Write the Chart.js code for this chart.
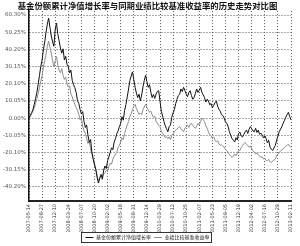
<!DOCTYPE html>
<html>
<head>
<meta charset="utf-8">
<script src="https://cdn.jsdelivr.net/npm/chart.js@4.4.1/dist/chart.umd.min.js"></script>
<style>
    html, body { margin: 0; padding: 0; background: #fff; }
    #wrap { width: 300px; height: 246px; }
</style>
</head>
<body>
<div id="wrap"><canvas id="trend_chart"></canvas></div>
<script>
// Tick labels on the date axis (one every 10 points)
var tickDates = [
    "2007-05-14", "2007-08-27", "2007-12-10", "2008-03-24", "2008-07-07",
    "2008-10-20", "2009-02-02", "2009-05-18", "2009-08-31", "2009-12-14",
    "2010-03-29", "2010-07-12", "2010-10-25", "2011-02-07", "2011-05-23",
    "2011-09-05", "2011-12-19", "2012-04-02", "2012-07-16", "2012-10-29",
    "2013-02-11"
];

// Value axis ticks (%)
var yTicks = [-40.20, -30.15, -20.10, -10.05, 0, 10.05, 20.10, 30.15, 40.20, 50.25, 60.30];

// Series names
var seriesNames = ["基金份额累计净值增长率", "业绩比较基准收益率"];

// Fund cumulative NAV growth (%)
var fundGrowth = [
    0.0, 1.5, 3.2, 5.0, 8.0, 11.5, 15.0, 19.8, 25.0, 30.2,
    34.0, 40.0, 44.5, 50.1, 55.0, 58.4, 53.0, 48.0, 44.6, 42.0,
    51.8, 55.6, 49.0, 45.2, 41.0, 38.0, 40.5, 34.0, 36.2, 31.5,
    30.0, 26.4, 28.0, 22.0, 19.5, 17.8, 15.0, 10.2, 8.6, 5.0,
    2.4, 3.8, -2.0, -5.5, -4.0, -10.0, -14.2, -12.5, -20.0, -24.0,
    -27.5, -30.0, -34.8, -38.0, -35.2, -33.0, -35.8, -30.4, -28.0, -29.5,
    -25.0, -22.6, -20.0, -17.4, -18.5, -14.0, -12.0, -9.2, -7.5, -5.0,
    -3.0, 0.8, -1.2, 4.5, 8.0, 12.4, 17.0, 22.0, 24.6, 27.0,
    22.5, 18.0, 14.6, 12.0, 14.0, 10.0, 13.5, 18.2, 22.0, 25.0,
    21.4, 18.0, 19.5, 15.2, 12.0, 13.8, 11.5, 14.0, 15.6, 16.0,
    10.0, 4.0, 1.2, -2.0, -4.5, -6.2, -8.0, -5.0, -4.0, 0.5,
    3.0, 5.0, 8.5, 11.0, 13.2, 14.0, 17.0, 15.5, 18.0, 16.2,
    14.0, 12.5, 15.0, 16.0, 13.2, 11.0, 12.0, 14.5, 17.0, 15.0,
    16.4, 18.0, 15.0, 13.6, 12.0, 9.4, 11.0, 10.0, 7.8, 8.5,
    6.0, 7.4, 9.0, 10.0, 7.0, 5.2, 4.0, 2.0, 1.5, 0.0,
    -2.4, -3.0, -5.0, -8.0, -10.2, -12.0, -13.0, -14.0, -11.5, -12.8,
    -9.0, -8.2, -10.5, -11.0, -9.6, -8.0, -7.0, -9.0, -6.5, -5.0,
    -6.2, -7.5, -8.0, -6.0, -8.4, -7.0, -9.5, -8.8, -10.0, -11.6,
    -10.4, -12.0, -14.5, -13.0, -17.0, -18.2, -19.0, -17.5, -16.0, -13.0,
    -10.5, -8.0, -6.4, -5.0, -3.0, -1.5, 0.5, 2.0, 3.4, 1.0,
    -1.0
];

// Benchmark return (%)
var benchmarkReturn = [
    0.0, 1.0, 2.5, 4.0, 6.0, 8.4, 11.0, 14.5, 18.0, 21.5,
    25.0, 30.0, 33.6, 37.5, 42.0, 45.0, 41.2, 38.0, 33.5, 30.0,
    33.8, 36.0, 31.0, 28.0, 26.5, 29.0, 25.0, 22.6, 24.0, 20.0,
    18.2, 19.0, 14.0, 12.5, 10.0, 8.0, 6.2, 4.5, 2.0, -1.0,
    0.4, -5.0, -7.4, -9.0, -12.0, -14.8, -13.5, -18.0, -21.0, -23.5,
    -26.0, -30.2, -33.0, -37.0, -35.0, -33.0, -34.5, -32.8, -32.0, -30.5,
    -31.2, -28.0, -26.4, -27.0, -24.0, -22.5, -21.0, -20.0, -17.2, -16.0,
    -14.0, -11.5, -12.6, -9.0, -6.5, -4.0, -2.0, 1.0, 2.6, 5.0,
    6.8, 8.0, 5.5, 4.0, 2.2, 3.0, 2.0, 5.0, 6.5, 8.0,
    6.0, 5.0, 3.4, 4.0, 2.0, 0.5, 1.2, -2.0, -3.0, -4.2,
    -5.0, -7.5, -9.0, -10.0, -11.4, -10.8, -12.0, -11.0, -12.5, -10.0,
    -9.2, -8.0, -7.0, -6.4, -5.5, -5.0, -6.2, -7.0, -8.0, -6.0,
    -5.2, -4.0, -5.5, -3.6, -3.0, -4.4, -5.0, -6.0, -4.8, -3.0,
    -4.0, -2.0, 0.0, -1.0, -2.0, -4.5, -6.0, -8.0, -9.6, -10.4,
    -12.0, -11.0, -13.0, -14.0, -13.2, -15.0, -16.0, -15.4, -16.5, -17.0,
    -18.4, -19.0, -20.0, -21.5, -22.0, -23.0, -22.2, -21.0, -22.0, -20.5,
    -19.0, -19.0, -17.2, -16.0, -15.0, -14.2, -15.5, -16.0, -17.0, -16.4,
    -18.0, -19.2, -20.0, -21.0, -20.4, -21.5, -22.0, -23.0, -22.6, -24.0,
    -23.4, -24.8, -25.0, -24.2, -25.6, -26.0, -25.0, -24.6, -24.0, -22.0,
    -21.0, -20.0, -19.4, -18.5, -18.0, -17.0, -16.4, -16.0, -15.2, -16.6,
    -17.0
];

function to_points(values) {
    return values.map(function (v, i) { return { x: i, y: v }; });
}

// Draws a thin frame round the legend items
var legendFrame = {
    id: "legendFrame",
    afterDraw: function (chart) {
        var legend = chart.legend;
        if (!legend || !legend.legendHitBoxes || !legend.legendHitBoxes.length) return;
        var boxes = legend.legendHitBoxes;
        var left = Infinity, right = -Infinity;
        boxes.forEach(function (b) {
            left = Math.min(left, b.left);
            right = Math.max(right, b.left + b.width);
        });
        var rowTop = legend.top + legend.options.labels.padding;
        var ctx = chart.ctx;
        ctx.save();
        ctx.setLineDash([]);
        ctx.strokeStyle = "#333";
        ctx.lineWidth = 1;
        ctx.strokeRect(Math.round(left) - 3.5, Math.round(rowTop) - 2.5, Math.round(right - left) + 6, 10);
        ctx.restore();
    }
};

function init_trend_chart() {
    var ctx = document.getElementById("trend_chart").getContext("2d");

    var data = {
        datasets: [{
            label: seriesNames[0],
            data: to_points(fundGrowth),
            borderColor: "#111",
            backgroundColor: "#111",
            borderWidth: 1,
            pointRadius: 0,
            tension: 0
        }, {
            label: seriesNames[1],
            data: to_points(benchmarkReturn),
            borderColor: "#8c8c8c",
            backgroundColor: "#8c8c8c",
            borderWidth: 1,
            pointRadius: 0,
            tension: 0
        }]
    };

    var options = {
        responsive: true,
        maintainAspectRatio: false,
        animation: false,
        devicePixelRatio: 1,
        layout: { padding: { left: 0, right: 5, top: 0, bottom: -4 } },
        scales: {
            x: {
                type: "linear",
                min: 0,
                max: 200,
                afterBuildTicks: function (scale) {
                    scale.ticks = tickDates.map(function (d, i) { return { value: i * 10 }; });
                },
                afterFit: function (scale) { scale.height = 31; },
                ticks: {
                    autoSkip: false,
                    maxRotation: 90,
                    minRotation: 90,
                    padding: 3,
                    color: "#333",
                    font: { family: "DejaVu Sans", size: 5 },
                    callback: function (v) { return tickDates[Math.round(v / 10)]; }
                },
                grid: { color: "#555", lineWidth: 1, drawTicks: false },
                border: { display: true, color: "#222", width: 2, dash: [1, 2] }
            },
            y: {
                min: -48.5,
                max: 62.6,
                afterBuildTicks: function (scale) {
                    scale.ticks = yTicks.map(function (v) { return { value: v }; });
                },
                afterFit: function (scale) { scale.width = 29; },
                ticks: {
                    padding: 3,
                    color: "#555",
                    font: { family: "DejaVu Sans", size: 5.5 },
                    callback: function (v) { return v.toFixed(2) + "%"; }
                },
                grid: { color: "#555", lineWidth: 1, drawTicks: false },
                border: { display: true, color: "#111", width: 1.5, dash: [1, 2] }
            }
        },
        plugins: {
            title: {
                display: true,
                text: "基金份额累计净值增长率与同期业绩比较基准收益率的历史走势对比图",
                color: "#111",
                font: { family: "Noto Sans CJK SC", size: 8.4, weight: "bold" },
                padding: { top: 1, bottom: 0 }
            },
            legend: {
                display: true,
                position: "bottom",
                labels: {
                    usePointStyle: true,
                    pointStyle: "line",
                    pointStyleWidth: 8,
                    boxHeight: 5,
                    padding: 3,
                    color: "#222",
                    font: { family: "Noto Sans CJK SC", size: 5 }
                }
            },
            tooltip: { enabled: false }
        }
    };

    new Chart(ctx, {
        type: "line",
        data: data,
        options: options,
        plugins: [legendFrame]
    });
}

init_trend_chart();
</script>
</body>
</html>
